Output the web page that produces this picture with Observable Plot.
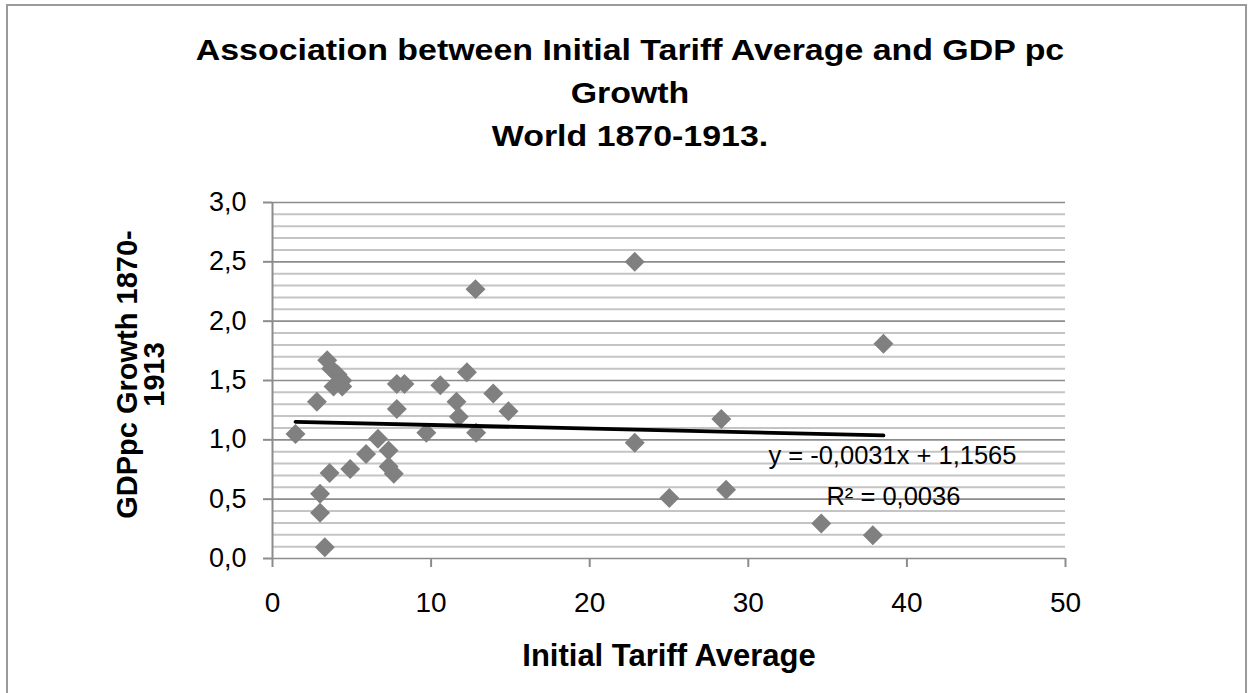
<!DOCTYPE html>
<html><head><meta charset="utf-8">
<script src="https://cdn.jsdelivr.net/npm/d3@7"></script>
<script src="https://cdn.jsdelivr.net/npm/@observablehq/plot@0.6"></script>
<style>
body{margin:0;background:#fff;}
#wrap{position:relative;width:1253px;height:693px;overflow:hidden;background:#fff;font-family:"Liberation Sans",Arial,sans-serif;}
#frame{position:absolute;left:6px;top:4px;width:1241px;height:720px;border:2px solid #9a9a9a;box-sizing:border-box;pointer-events:none;}
#title{position:absolute;left:0;top:28px;width:1260px;text-align:center;font-weight:bold;font-size:30px;line-height:43px;color:#000;transform:scaleX(1.13);transform-origin:630px 0;}
#chart{position:absolute;left:0;top:160px;}
</style></head>
<body><div id="wrap"><div id="chart"></div><div id="title">Association between Initial Tariff Average and GDP pc<br>Growth<br>World 1870-1913.</div><div id="frame"></div></div>
<script>
// Data
const tariff = [1.45, 2.80, 3.45, 3.70, 4.10, 4.40, 3.85, 4.40, 3.60, 4.90, 5.90, 6.65, 7.32, 7.32, 7.65, 3.00, 3.00, 3.30, 9.70, 7.84, 7.84, 8.32, 10.58, 12.26, 13.92, 11.60, 11.75, 14.88, 12.84, 12.80, 22.84, 22.84, 38.52, 28.30, 25.02, 28.60, 34.60, 37.85];
const growth = [1.05, 1.32, 1.67, 1.60, 1.55, 1.50, 1.45, 1.45, 0.72, 0.755, 0.88, 1.01, 0.91, 0.775, 0.715, 0.545, 0.385, 0.095, 1.06, 1.26, 1.47, 1.47, 1.46, 1.57, 1.39, 1.32, 1.195, 1.24, 1.06, 2.27, 2.50, 0.975, 1.81, 1.175, 0.51, 0.58, 0.295, 0.195];
const trendSlope = -0.0031;
const trendIntercept = 1.1565;
const equationLabel = "y = -0,0031x + 1,1565";
const r2Label = "R\u00B2 = 0,0036";
const xTicks = [0, 10, 20, 30, 40, 50];
const yMajorTicks = [0, 0.5, 1.0, 1.5, 2.0, 2.5, 3.0];
const yMinorTicks = [0.1,0.2,0.3,0.4,0.6,0.7,0.8,0.9,1.1,1.2,1.3,1.4,1.6,1.7,1.8,1.9,2.1,2.2,2.3,2.4,2.6,2.7,2.8,2.9];
const xLabel = "Initial Tariff Average";
const yLabel = "GDPpc Growth 1870-\n1913";

const points = tariff.map((t, i) => ({x: t, y: growth[i]}));
const xMin = d3.min(tariff), xMax = d3.max(tariff);
const trend = [xMin, xMax].map(x => ({x, y: trendSlope * x + trendIntercept}));
const trendEnd = [trend[1]];
const fmt = d => d3.format(".1f")(d).replace(".", ",");

const chart = Plot.plot({
  width: 1253,
  height: 533,
  marginLeft: 272,
  marginRight: 188,
  marginTop: 42,
  marginBottom: 135,
  style: {background: "transparent", fontFamily: "'Liberation Sans', Arial, sans-serif", color: "#000", overflow: "visible"},
  x: {domain: [0, 50]},
  y: {domain: [0, 3]},
  marks: [
    Plot.ruleY(yMinorTicks, {stroke: "#c4c4c4", strokeWidth: 2}),
    Plot.ruleY(yMajorTicks, {stroke: "#8c8c8c", strokeWidth: 1.6}),
    Plot.ruleX([0], {stroke: "#8c8c8c", strokeWidth: 2}),
    Plot.axisY({ticks: yMajorTicks, tickFormat: fmt, tickSize: 9, tickPadding: 17, stroke: "#8c8c8c", strokeWidth: 2, fill: "#000", fontSize: 27, label: null}),
    Plot.axisX({ticks: xTicks, tickFormat: d => String(d), tickSize: 9, tickPadding: 25, stroke: "#8c8c8c", strokeWidth: 2, fill: "#000", fontSize: 28, label: null}),
    Plot.dot(points, {x: "x", y: "y", symbol: "diamond2", r: 9, fill: "#808080", stroke: "none"}),
    Plot.line(trend, {x: "x", y: "y", stroke: "#000", strokeWidth: 3.8}),
    Plot.text(trendEnd, {x: "x", y: "y", text: () => equationLabel, dx: 9, dy: 20, fontSize: 25.5, fill: "#000"}),
    Plot.text(trendEnd, {x: "x", y: "y", text: () => r2Label, dx: 10, dy: 61, fontSize: 25.5, fill: "#000"}),
    Plot.text([xLabel], {frameAnchor: "bottom", dy: 107, fontSize: 31, fontWeight: "bold", fill: "#000"}),
    Plot.text([yLabel], {frameAnchor: "left", textAnchor: "middle", dx: -131, dy: -6, rotate: -90, fontSize: 29, fontWeight: "bold", lineHeight: 0.95, fill: "#000"})
  ]
});
document.getElementById("chart").appendChild(chart);
</script>
</body></html>
